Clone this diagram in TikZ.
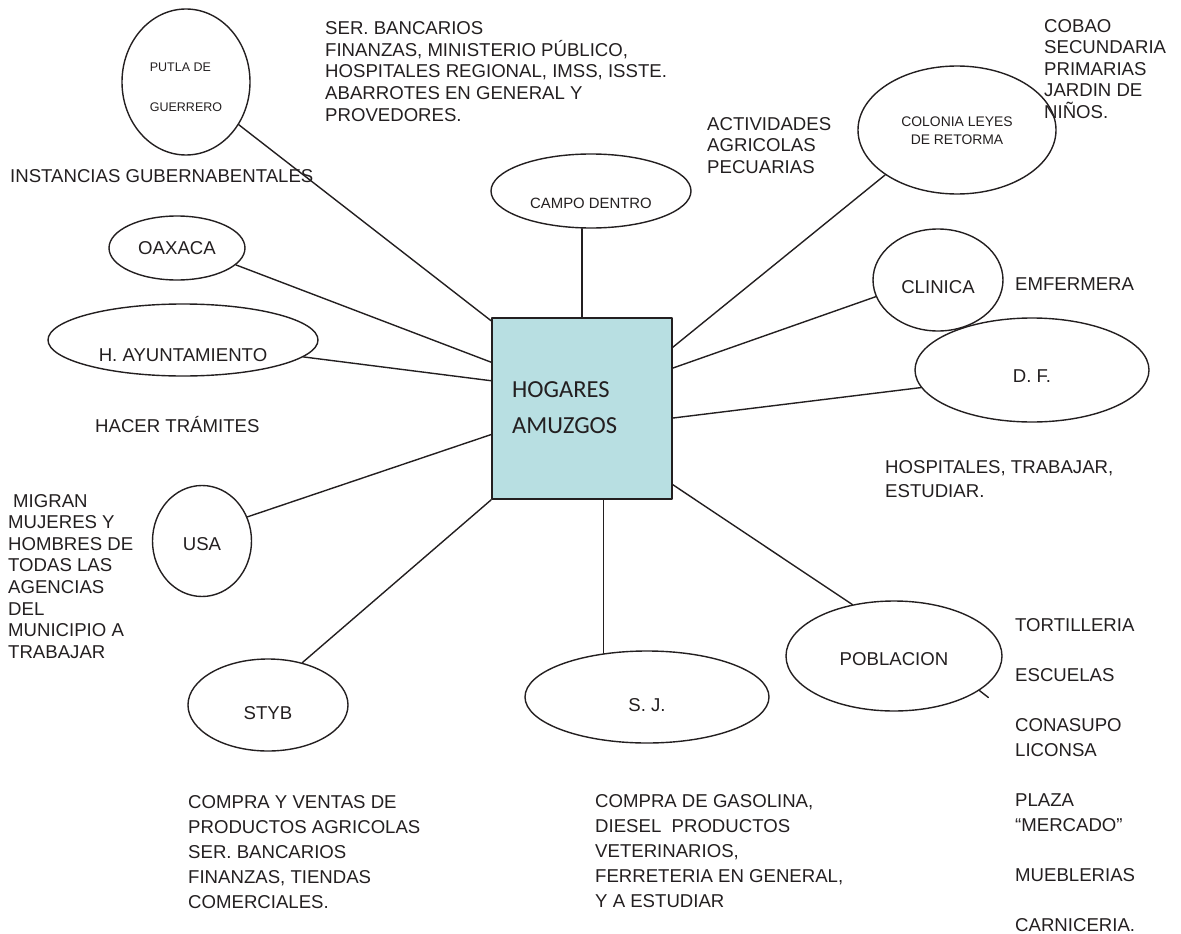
\documentclass[tikz,border=0pt]{standalone}
\usepackage{fontspec}
\setmainfont{Liberation Sans}
\newfontfamily\hogfont{Carlito}
\usetikzlibrary{shapes.geometric}
\definecolor{hogfill}{RGB}{184,223,226}
\definecolor{ink}{RGB}{35,31,32}
\tikzset{
  oval/.style={draw=ink,line width=1.4pt,ellipse,inner sep=0pt},
  ovtxt/.style={text=ink,font=\fontsize{18.6}{22}\selectfont},
  note/.style={anchor=base west,align=left,inner sep=0pt,text=ink},% base = ultima linea
  link/.style={draw=ink,line width=1.4pt},
}
\begin{document}
\begin{tikzpicture}[x=1pt,y=-1pt,line join=round,line cap=round,font=\fontsize{18.6}{21.6}\selectfont]
    \useasboundingbox (0,0) rectangle (1181,934);
    % centro
    \node[draw=ink,line width=1.5pt,fill=hogfill,minimum width=180,minimum height=181,inner sep=0pt] (hog) at (582,408.5) {};
    \node[note,font=\hogfont\fontsize{24.5}{36}\selectfont] (hogtxt) at (512,433) {HOGARES\\AMUZGOS};
    % lugares
    \node[oval,minimum width=128,minimum height=146,label={[ovtxt,font=\fontsize{12.5}{40}\selectfont,align=left,yshift=-5pt]center:PUTLA DE\\GUERRERO}] (putla) at (186,82) {};
    \node[oval,minimum width=200,minimum height=74,label={[ovtxt,font=\fontsize{14.9}{18}\selectfont,yshift=-12pt]center:CAMPO DENTRO}] (campo) at (591,191) {};
    \node[oval,minimum width=198,minimum height=128,label={[ovtxt,font=\fontsize{13.9}{18}\selectfont,align=center,yshift=-1pt]center:COLONIA LEYES\\DE RETORMA}] (col) at (957,130) {};
    \node[oval,minimum width=136,minimum height=64,label={[ovtxt]center:OAXACA}] (oax) at (177,248) {};
    \node[oval,minimum width=130,minimum height=102,label={[ovtxt,yshift=-7pt]center:CLINICA}] (clin) at (938,280) {};
    \node[oval,minimum width=270,minimum height=72,label={[ovtxt,yshift=-15pt]center:H. AYUNTAMIENTO}] (ayun) at (183,340) {};
    \node[oval,minimum width=234,minimum height=104,label={[ovtxt,yshift=-6pt]center:D. F.}] (df) at (1032,370) {};
    \node[oval,minimum width=99,minimum height=111,label={[ovtxt,yshift=-3pt]center:USA}] (usa) at (202,541) {};
    \node[oval,minimum width=160,minimum height=92,label={[ovtxt,yshift=-8pt]center:STYB}] (styb) at (268,705) {};
    \node[oval,minimum width=244,minimum height=92,label={[ovtxt,yshift=-8pt]center:S. J.}] (sj) at (647,697) {};
    \node[oval,minimum width=216,minimum height=110,label={[ovtxt,yshift=-3pt]center:POBLACION}] (pob) at (894,656) {};
    % lineas
    \draw[link] (putla.-39) -- (hog.136);
    \draw[link] (oax.-16) -- (hog.153);
    \draw[link] (ayun.-8) -- (hog.163);
    \draw[link] (usa.28) -- (hog.196);
    \draw[link] (styb.51) -- (hog.south west);
    \draw[link] (sj.135) -- (sj.135 |- hog.south);
    \draw[link] (hog.north) -- (hog.north |- campo.south);
    \draw[link] (pob.129) -- (hog.-40);
    \draw[link] (df.-171) -- (hog.-6);
    \draw[link] (clin.195) -- (hog.24);
    \draw[link] (col.212) -- (hog.34);
    \draw[link] (pob.-22) -- ++(9,7);
    % textos
    \node[note] (ser) at (325,121.1) {SER. BANCARIOS\\FINANZAS, MINISTERIO PÚBLICO,\\HOSPITALES REGIONAL, IMSS, ISSTE.\\ABARROTES EN GENERAL Y\\PROVEDORES.};
    \node[note] (inst) at (10,182) {INSTANCIAS GUBERNABENTALES};
    \node[note] (cobao) at (1044,118.4) {COBAO\\SECUNDARIA\\PRIMARIAS\\JARDIN DE\\NIÑOS.};
    \node[note] (activ) at (707,173.2) {ACTIVIDADES\\AGRICOLAS\\PECUARIAS};
    \node[note] (emf) at (1015,290) {EMFERMERA};
    \node[note] (tram) at (95,432) {HACER TRÁMITES};
    \node[note] (migran) at (8,658.2) {\hspace{5pt}MIGRAN\\MUJERES Y\\HOMBRES DE\\TODAS LAS\\AGENCIAS\\DEL\\MUNICIPIO A\\TRABAJAR};
    \node[note,font=\fontsize{18.6}{24}\selectfont] (hosp) at (885,497) {HOSPITALES, TRABAJAR,\\ESTUDIAR.};
    \node[note,font=\fontsize{18.6}{25}\selectfont] (compra) at (188,908) {COMPRA Y VENTAS DE\\PRODUCTOS AGRICOLAS\\SER. BANCARIOS\\FINANZAS, TIENDAS\\COMERCIALES.};
    \node[note,font=\fontsize{18.6}{25}\selectfont] (gasol) at (595,907) {COMPRA DE GASOLINA,\\DIESEL\ \ PRODUCTOS\\VETERINARIOS,\\FERRETERIA EN GENERAL,\\Y A ESTUDIAR};
    \node[note,font=\fontsize{18.6}{25}\selectfont] (lista) at (1015,931) {TORTILLERIA\\[25pt]ESCUELAS\\[25pt]CONASUPO\\LICONSA\\[25pt]PLAZA\\“MERCADO”\\[25pt]MUEBLERIAS\\[25pt]CARNICERIA.};
\end{tikzpicture}
\end{document}
